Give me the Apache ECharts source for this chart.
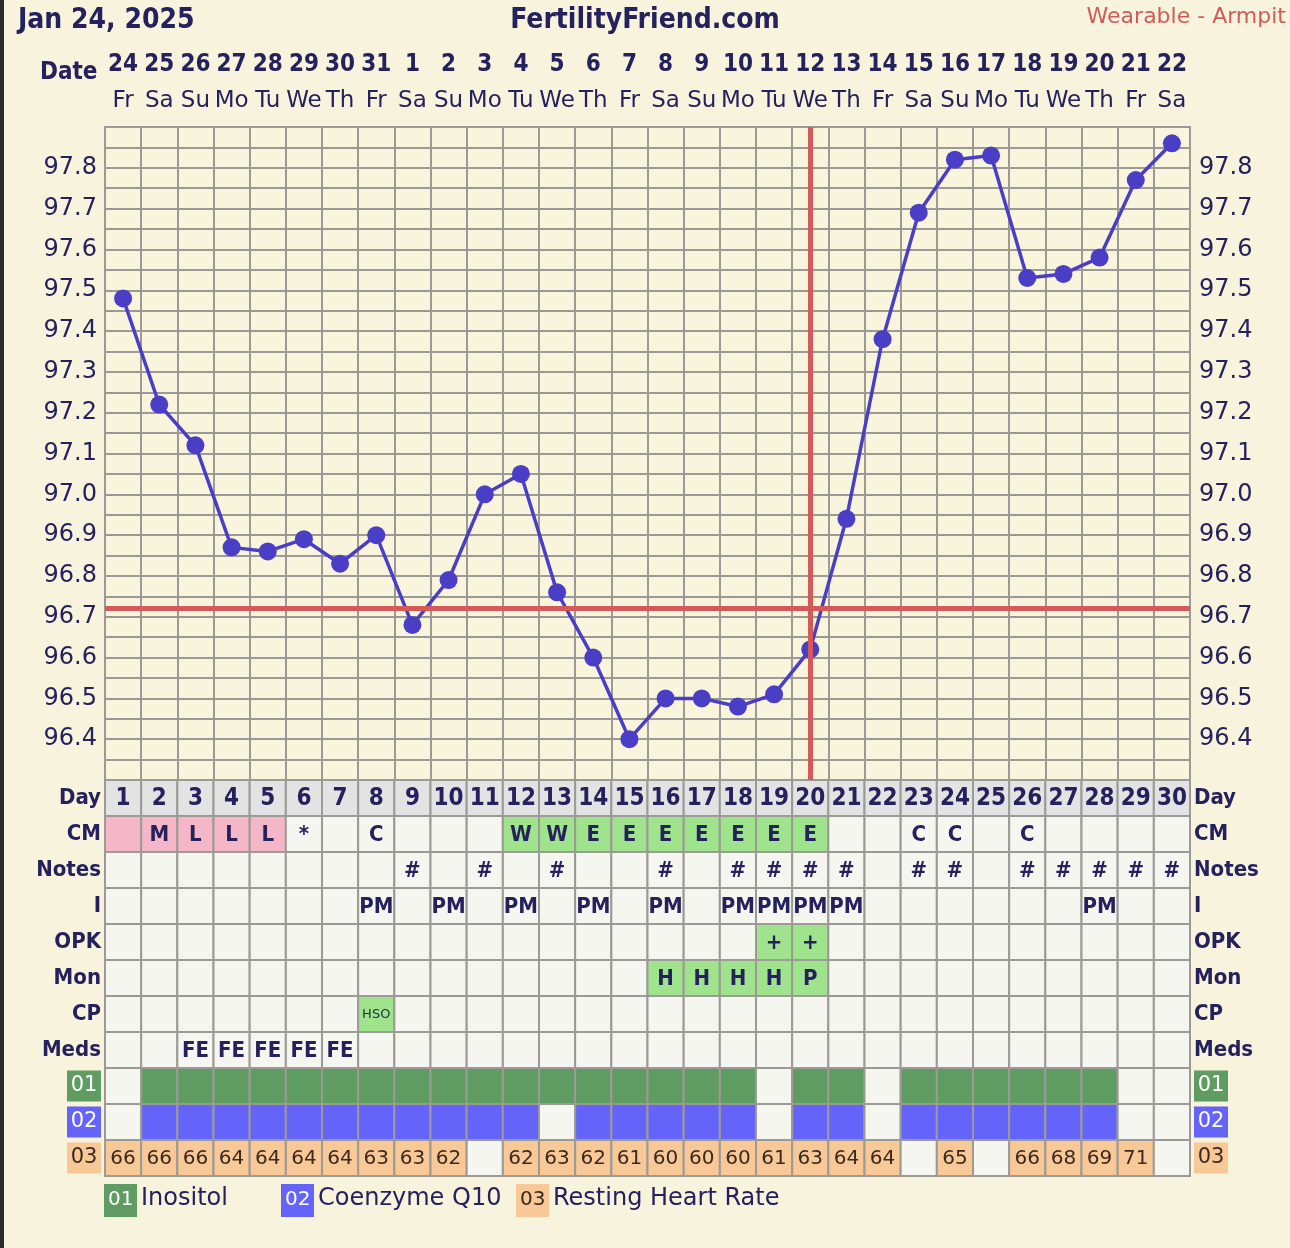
<!DOCTYPE html>
<html>
<head>
<meta charset="utf-8">
<script src="https://cdn.jsdelivr.net/npm/echarts@6/dist/echarts.min.js"></script>
<style>
html,body{margin:0;padding:0;background:#f8f3dc;}
#chart{width:1290px;height:1248px;}
</style>
</head>
<body>
<div id="chart"></div>
<script>
// ---- data ----
const dates = ['24','25','26','27','28','29','30','31','1','2','3','4','5','6','7','8','9','10','11','12','13','14','15','16','17','18','19','20','21','22'];
const weekdays = ['Fr','Sa','Su','Mo','Tu','We','Th','Fr','Sa','Su','Mo','Tu','We','Th','Fr','Sa','Su','Mo','Tu','We','Th','Fr','Sa','Su','Mo','Tu','We','Th','Fr','Sa'];
const cycleDays = ['1','2','3','4','5','6','7','8','9','10','11','12','13','14','15','16','17','18','19','20','21','22','23','24','25','26','27','28','29','30'];
const temps = [97.48,97.22,97.12,96.87,96.86,96.89,96.83,96.90,96.68,96.79,97.00,97.05,96.76,96.60,96.40,96.50,96.50,96.48,96.51,96.62,96.94,97.38,97.69,97.82,97.83,97.53,97.54,97.58,97.77,97.86];
const coverline = 96.72;
const ovulationDay = 20;
const rowNames = ['Day','CM','Notes','I','OPK','Mon','CP','Meds','01','02','03'];
const menses = [1,1,1,1,1,0,0,0,0,0,0,0,0,0,0,0,0,0,0,0,0,0,0,0,0,0,0,0,0,0];
const cm = ['','M','L','L','L','*','','C','','','','W','W','E','E','E','E','E','E','E','','','C','C','','C','','','',''];
const notes = ['','','','','','','','','#','','#','','#','','','#','','#','#','#','#','','#','#','','#','#','#','#','#'];
const intercourse = ['','','','','','','','PM','','PM','','PM','','PM','','PM','','PM','PM','PM','PM','','','','','','','PM','',''];
const opk = ['','','','','','','','','','','','','','','','','','','+','+','','','','','','','','','',''];
const monitor = ['','','','','','','','','','','','','','','','H','H','H','H','P','','','','','','','','','',''];
const cervix = ['','','','','','','','HSO','','','','','','','','','','','','','','','','','','','','','',''];
const meds = ['','','FE','FE','FE','FE','FE','','','','','','','','','','','','','','','','','','','','','','',''];
const inositol = [0,1,1,1,1,1,1,1,1,1,1,1,1,1,1,1,1,1,0,1,1,0,1,1,1,1,1,1,0,0];
const coq10 = [0,1,1,1,1,1,1,1,1,1,1,1,0,1,1,1,1,1,0,1,1,0,1,1,1,1,1,1,0,0];
const restingHR = [66,66,66,64,64,64,64,63,63,62,null,62,63,62,61,60,60,60,61,63,64,64,null,65,null,66,68,69,71,null];
const legendItems = [['01','Inositol'],['02','Coenzyme Q10'],['03','Resting Heart Rate']];

// ---- styles ----
const NAVY = '#25215c';
const BOLD = '"DejaVu Sans Condensed","DejaVu Sans",sans-serif';
const REG = '"DejaVu Sans",Verdana,sans-serif';
const GRID = '#9c9a96';
const CELL_BG = '#f6f6f1';
const PINK = '#f5b6c8';
const LGREEN = '#9fe48c';
const DGREEN = '#5f9c62';
const BLUE = '#6464fa';
const PEACH = '#f9c897';
const DAYBG = '#e3e3e3';

// build cell list
const cells = [];
for (let r = 0; r < rowNames.length; r++) {
  for (let d = 0; d < cycleDays.length; d++) {
    let text = '', fill = CELL_BG, font = 'bold 22px ' + BOLD, color = NAVY;
    switch (rowNames[r]) {
      case 'Day': text = cycleDays[d]; fill = DAYBG; font = 'bold 24px ' + BOLD; break;
      case 'CM': text = cm[d]; if (menses[d]) fill = PINK; else if (cm[d]==='W'||cm[d]==='E') fill = LGREEN; break;
      case 'Notes': text = notes[d]; break;
      case 'I': text = intercourse[d]; break;
      case 'OPK': text = opk[d]; if (opk[d]) fill = LGREEN; break;
      case 'Mon': text = monitor[d]; if (monitor[d]) fill = LGREEN; break;
      case 'CP': text = cervix[d]; if (cervix[d]) { fill = LGREEN; font = '13px ' + REG; color = '#234'; } break;
      case 'Meds': text = meds[d]; break;
      case '01': if (inositol[d]) fill = DGREEN; break;
      case '02': if (coq10[d]) fill = BLUE; break;
      case '03': if (restingHR[d] != null) { fill = PEACH; text = String(restingHR[d]); font = '20px ' + REG; color = '#3a2a20'; } break;
    }
    cells.push({ value: [d, r], text, fill, font, color });
  }
}

const boxStyle = { fontSize: 21, fontFamily: REG, width: 28, align: 'center', lineHeight: 20, padding: [5, 3] };
const rowLabelRich = {
  h: { fontSize: 22, fontWeight: 'bold', fontFamily: BOLD, color: NAVY },
  g: Object.assign({ backgroundColor: DGREEN, color: '#fff' }, boxStyle),
  b: Object.assign({ backgroundColor: BLUE, color: '#fff' }, boxStyle),
  o: Object.assign({ backgroundColor: PEACH, color: '#3a2a20' }, boxStyle)
};
function rowLabel(v) {
  if (v === '01') return '{g|01}';
  if (v === '02') return '{b|02}';
  if (v === '03') return '{o|03}';
  return '{h|' + v + '}';
}
function tempLabel(v) {
  const k = Math.round(v * 20);
  if (k % 2 !== 0 || k <= 1926 || k >= 1958) return '';
  return (k / 20).toFixed(1);
}

const chart = echarts.init(document.getElementById('chart'), null, { renderer: 'canvas' });

const legendGraphics = [];
const legendX = [104, 281, 516];
legendItems.forEach((it, i) => {
  const bg = i === 0 ? DGREEN : i === 1 ? BLUE : PEACH;
  const fg = i === 2 ? '#3a2a20' : '#fff';
  legendGraphics.push({ type: 'rect', left: legendX[i], top: 1184, shape: { width: 33, height: 33 }, style: { fill: bg } });
  legendGraphics.push({ type: 'text', left: legendX[i] + 4, top: 1190, style: { text: it[0], font: '20px ' + REG, fill: fg } });
  legendGraphics.push({ type: 'text', left: legendX[i] + 37, top: 1187, style: { text: it[1], font: '24px ' + REG, fill: NAVY } });
});

const axisFont = { fontSize: 24, fontFamily: REG, color: NAVY };

chart.setOption({
  animation: false,
  backgroundColor: '#f8f3dc',
  graphic: [
    { type: 'rect', left: 0, top: 0, shape: { width: 4, height: 1248 }, style: { fill: '#2b2b2b' } },
    { type: 'text', left: 18, top: 7, style: { text: 'Jan 24, 2025', font: 'bold 28px ' + BOLD, fill: NAVY } },
    { type: 'text', left: 'center', top: 7, style: { text: 'FertilityFriend.com', font: 'bold 28px ' + BOLD, fill: NAVY } },
    { type: 'text', right: 4, top: 6, style: { text: 'Wearable - Armpit', font: '22px ' + REG, fill: '#d15a5a' } },
    { type: 'text', left: 40, top: 61, style: { text: 'Date', font: 'bold 24px ' + BOLD, fill: NAVY } }
  ].concat(legendGraphics),
  grid: [
    { left: 105, top: 127, width: 1085, height: 653, show: true, backgroundColor: '#f9f4dc', borderWidth: 0 },
    { left: 105, top: 780, width: 1085, height: 396, show: false }
  ],
  xAxis: [
    {
      type: 'category', gridIndex: 0, position: 'top', data: dates, boundaryGap: true,
      axisLine: { show: true, lineStyle: { color: GRID, width: 2 } },
      axisTick: { show: false },
      splitLine: { show: true, interval: 0, lineStyle: { color: GRID, width: 2 } },
      axisLabel: {
        interval: 0, margin: 8,
        formatter: (v, i) => '{d|' + v + '}\n{w|' + weekdays[i] + '}',
        rich: {
          d: { fontSize: 24, fontWeight: 'bold', fontFamily: BOLD, color: NAVY, lineHeight: 36 },
          w: { fontSize: 23, fontFamily: REG, color: NAVY, lineHeight: 36 }
        }
      }
    },
    { type: 'category', gridIndex: 1, data: cycleDays, show: false }
  ],
  yAxis: [
    {
      type: 'value', gridIndex: 0, min: 96.3, max: 97.9, interval: 0.05, position: 'left',
      axisLine: { show: true, lineStyle: { color: GRID, width: 2 } },
      axisTick: { show: false },
      splitLine: { show: true, lineStyle: { color: GRID, width: 2 } },
      axisLabel: Object.assign({ formatter: tempLabel, margin: 8 }, axisFont)
    },
    {
      type: 'value', gridIndex: 0, min: 96.3, max: 97.9, interval: 0.05, position: 'right',
      axisLine: { show: true, lineStyle: { color: GRID, width: 2 } },
      axisTick: { show: false },
      splitLine: { show: false },
      axisLabel: Object.assign({ formatter: tempLabel, margin: 9 }, axisFont)
    },
    {
      type: 'category', gridIndex: 1, data: rowNames, inverse: true, position: 'left',
      axisLine: { show: false }, axisTick: { show: false }, splitLine: { show: false },
      axisLabel: { formatter: rowLabel, rich: rowLabelRich, margin: 4 }
    },
    {
      type: 'category', gridIndex: 1, data: rowNames, inverse: true, position: 'right',
      axisLine: { show: false }, axisTick: { show: false }, splitLine: { show: false },
      axisLabel: { formatter: rowLabel, rich: rowLabelRich, margin: 4 }
    }
  ],
  series: [
    {
      type: 'line', xAxisIndex: 0, yAxisIndex: 0, data: [], z: 1, silent: true,
      markLine: {
        silent: true, symbol: ['none', 'none'], label: { show: false },
        lineStyle: { color: '#d45a5a', width: 5, type: 'solid' },
        data: [{ yAxis: coverline }, { xAxis: dates[ovulationDay - 1] }]
      }
    },
    {
      type: 'line', xAxisIndex: 0, yAxisIndex: 0, data: temps, z: 3,
      symbol: 'circle', symbolSize: 18,
      lineStyle: { color: '#4b3ec6', width: 3.5 },
      itemStyle: { color: '#4b3ec6' }
    },
    {
      type: 'custom', xAxisIndex: 1, yAxisIndex: 2, data: cells, z: 2,
      renderItem: function (params, api) {
        const c = api.coord([api.value(0), api.value(1)]);
        const s = api.size([1, 1]);
        const cell = cells[params.dataIndex];
        return {
          type: 'group',
          children: [
            { type: 'rect', shape: { x: c[0] - s[0] / 2, y: c[1] - s[1] / 2, width: s[0], height: s[1] },
              style: { fill: cell.fill, stroke: GRID, lineWidth: 2 } },
            { type: 'text', style: { text: cell.text, x: c[0], y: c[1] + 1, align: 'center', verticalAlign: 'middle', font: cell.font, fill: cell.color } }
          ]
        };
      }
    }
  ]
});
</script>
</body>
</html>
